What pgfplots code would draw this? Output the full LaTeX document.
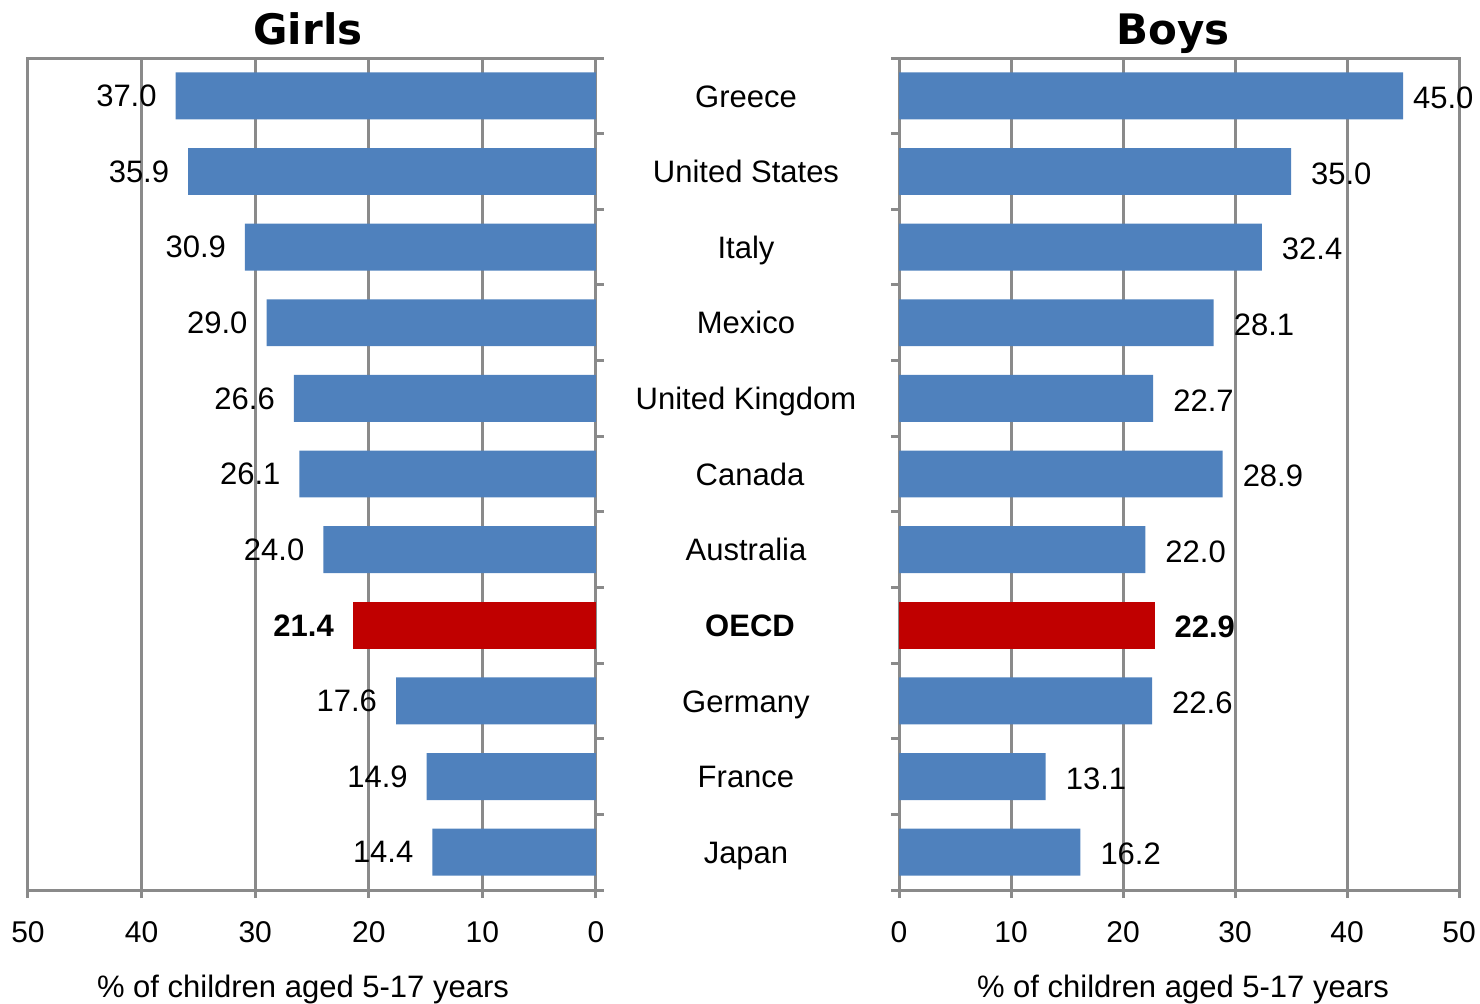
\documentclass[border=0pt]{standalone}
\usepackage{pgfplots}
\usepackage{pgfplotstable}
\pgfplotsset{compat=1.18}
\usepackage{fontspec}
\setmainfont{Liberation Sans}
\newfontfamily\titlefont{DejaVu Sans}
\definecolor{barblue}{HTML}{4F81BD}
\definecolor{barred}{HTML}{C00000}
\definecolor{axgray}{HTML}{8A8A8A}

\pgfplotstableread{
y v
1 37.0
2 35.9
3 30.9
4 29.0
5 26.6
6 26.1
7 24.0
9 17.6
10 14.9
11 14.4
}\girls
\pgfplotstableread{
y v
8 21.4
}\girlsoecd
\pgfplotstableread{
y v dx
1 45.0 1.5
2 35.0 6.5
3 32.4 6.5
4 28.1 6.5
5 22.7 6.5
6 28.9 6.5
7 22.0 6.5
9 22.6 6.5
10 13.1 6.5
11 16.2 6.5
}\boys
\pgfplotstableread{
y v dx
8 22.9 6
}\boysoecd

\newcommand\lf{\fontsize{15.5}{18}\selectfont}
\tikzset{lab/.style={font=\lf, xshift=75pt, anchor=base, yshift=-5.6pt}}

\pgfplotsset{
 mystyle/.style={
  scale only axis, height=416pt, xmin=0, xmax=50, ymin=0.5, ymax=11.5, y dir=reverse,
  xtick={0,10,...,50}, ytick={0.5,1.5,...,11.5}, yticklabels={},
  tick align=outside, major tick length=4pt, xtick pos=bottom,
  xmajorgrids, grid style={axgray, line width=1.5pt},
  axis line style={axgray, line width=1.5pt},
  tick style={axgray, line width=1.5pt},
  /pgf/number format/assume math mode=true,
  ticklabel style={font=\fontsize{15}{18}\selectfont},
  xticklabel style={anchor=base, yshift=-22pt},
  clip=false,
  xbar, bar width=0.62, bar shift=0pt,
  point meta=x,
  nodes near coords={\pgfmathprintnumber[fixed,fixed zerofill,precision=1]{\pgfplotspointmeta}},
  xlabel={\% of children aged 5-17 years},
  xlabel style={font=\lf, at={(axis description cs:0.5,0)}, anchor=base, yshift=-53.5pt},
  title style={font=\titlefont\bfseries\fontsize{21}{25}\selectfont, at={(axis description cs:0.5,1)}, anchor=base, yshift=1pt},
 },
}

\begin{document}
\begin{tikzpicture}
\path[use as bounding box] (0,0) rectangle (740pt,501.5pt);
\begin{axis}[mystyle, at={(14pt,56.5pt)}, anchor=south west, width=284pt,
  x dir=reverse, ytick pos=right, title={Girls},
  xlabel style={xshift=-4.5pt}, title style={xshift=-2pt}]
\addplot[fill=barblue, draw=none,
  nodes near coords style={font=\lf, text=black, anchor=east, xshift=-6pt}]
  table[x=v, y=y] {\girls};
\addplot[fill=barred, draw=none,
  nodes near coords style={font=\bfseries\lf, text=black, anchor=east, xshift=-6pt}]
  table[x=v, y=y] {\girlsoecd};
\node[lab] at (axis cs:0,1) {Greece};
\node[lab] at (axis cs:0,2) {United States};
\node[lab] at (axis cs:0,3) {Italy};
\node[lab] at (axis cs:0,4) {Mexico};
\node[lab] at (axis cs:0,5) {United Kingdom};
\node[lab, xshift=2pt] at (axis cs:0,6) {Canada};
\node[lab] at (axis cs:0,7) {Australia};
\node[lab, xshift=2pt, font=\bfseries\lf] at (axis cs:0,8) {OECD};
\node[lab] at (axis cs:0,9) {Germany};
\node[lab] at (axis cs:0,10) {France};
\node[lab] at (axis cs:0,11) {Japan};
\end{axis}
\begin{axis}[mystyle, at={(449.5pt,56.5pt)}, anchor=south west, width=280pt,
  ytick pos=left, title={Boys},
  xlabel style={xshift=2pt}, title style={xshift=-3pt}]
\addplot[fill=barblue, draw=none,
  visualization depends on={\thisrow{dx} \as \dx},
  nodes near coords style={font=\lf, text=black, anchor=west, xshift=\dx pt, yshift=-1pt}]
  table[x=v, y=y] {\boys};
\addplot[fill=barred, draw=none,
  visualization depends on={\thisrow{dx} \as \dx},
  nodes near coords style={font=\bfseries\lf, text=black, anchor=west, xshift=\dx pt, yshift=-1pt}]
  table[x=v, y=y] {\boysoecd};
\end{axis}
\end{tikzpicture}
\end{document}
